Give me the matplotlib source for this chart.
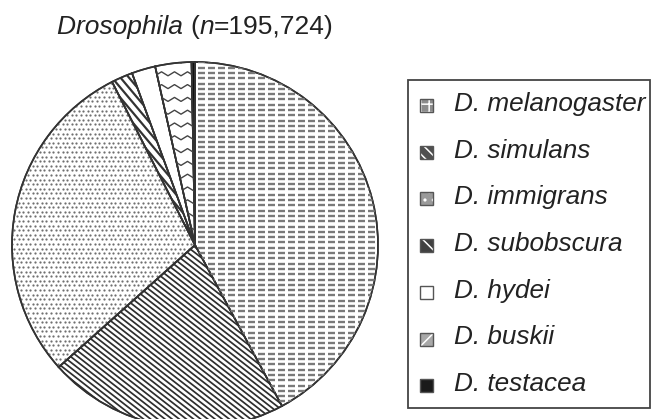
import numpy as np
import matplotlib
matplotlib.use("Agg")
import matplotlib.pyplot as plt
from matplotlib.collections import LineCollection
from matplotlib.patches import Rectangle, Wedge

# ---- data ----
species = ["D. melanogaster", "D. simulans", "D. immigrans", "D. subobscura",
           "D. hydei", "D. buskii", "D. testacea"]
shares = [42.2, 21.3, 29.2, 1.9, 2.1, 3.2, 0.3]
title_parts = [("Drosophila ", "italic"), ("(", "normal"), ("n", "italic"), ("=195,724)", "normal")]

plt.rcParams["font.family"] = ["Liberation Sans", "DejaVu Sans"]
plt.rcParams["hatch.linewidth"] = 1.1

W, H = 652, 419
fig = plt.figure(figsize=(6.52, 4.19), dpi=100)
ax = fig.add_axes([0, 0, 1, 1])

cx, cy, R = 195, H - 245, 183
wedges, _ = ax.pie(shares, startangle=90, counterclock=False, center=(cx, cy), radius=R,
                   wedgeprops=dict(facecolor="white", edgecolor="#333333", linewidth=1.2))
ax.set_xlim(0, W)
ax.set_ylim(0, H)
ax.set_aspect("equal")
ax.axis("off")


def add_clipped(coll, wedge):
    ax.add_collection(coll)
    coll.set_clip_path(wedge)


def diag_lines(angle_deg, spacing):
    th = np.radians(angle_deg)
    d = np.array([np.cos(th), -np.sin(th)])
    n = np.array([np.sin(th), np.cos(th)])
    segs = []
    for off in np.arange(-1.5 * R, 1.5 * R, spacing):
        p0 = np.array([cx, cy]) + off * n
        segs.append([p0 - 2 * R * d, p0 + 2 * R * d])
    return segs


# melanogaster: grid of short horizontal dashes
segs = []
for y in np.arange(cy - R, cy + R, 5.3):
    for x in np.arange(cx + 3, cx + R, 10):
        segs.append([(x, y), (x + 6.5, y)])
add_clipped(LineCollection(segs, colors="#7a7a7a", linewidths=1.7), wedges[0])

# simulans: dense diagonal lines
add_clipped(LineCollection(diag_lines(38, 4.4), colors="#2e2e2e", linewidths=1.25), wedges[1])

# immigrans: dots
xs, ys = [], []
for i, y in enumerate(np.arange(cy - R, cy + R, 4.6)):
    for x in np.arange(cx - R + (i % 2) * 2.3, cx + 10, 4.6):
        xs.append(x)
        ys.append(y)
dots = ax.scatter(xs, ys, s=2.6, color="#707070", linewidths=0)
dots.set_clip_path(wedges[2])

# subobscura: thicker diagonal lines
add_clipped(LineCollection(diag_lines(50, 6.5), colors="#333333", linewidths=1.6), wedges[3])

# buskii: zigzag rows
segs = []
for y in np.arange(cy - 10, cy + R, 12.8):
    pts = []
    for k, x in enumerate(np.arange(cx - 40, cx + 10, 6.5)):
        pts.append((x, y + (4 if k % 2 else 0)))
    segs.append(pts)
add_clipped(LineCollection(segs, colors="#444444", linewidths=1.0), wedges[5])

# testacea: solid black
wedges[6].set_facecolor("#111111")

# redraw wedge outlines above patterns
for w in wedges:
    ax.add_patch(Wedge(w.center, w.r, w.theta1, w.theta2,
                       fill=False, edgecolor="#333333", linewidth=1.2))

# ---- title ----
prev = None
for txt, style in title_parts:
    if prev is None:
        prev = ax.text(57, H - 33.5, txt, fontsize=19, style=style, color="#222222",
                       ha="left", va="baseline")
    else:
        prev = ax.annotate(txt, xy=(1, 0), xycoords=prev, fontsize=19, style=style,
                           color="#222222", ha="left", va="bottom")

# ---- legend ----
ax.add_patch(Rectangle((408, H - 408), 242, 328, fill=False, edgecolor="#444444", linewidth=1.3))
marker_styles = [
    dict(face="#8c8c8c", hatch="++", hc="white"),
    dict(face="#505050", hatch="\\\\\\", hc="white"),
    dict(face="#9a9a9a", hatch="..", hc="white"),
    dict(face="#404040", hatch="\\\\", hc="white"),
    dict(face="white", hatch=None, hc="white"),
    dict(face="#a8a8a8", hatch="x", hc="white"),
    dict(face="#1a1a1a", hatch=None, hc="#1a1a1a"),
]
base0, step = 111, 46.7
for i, (name, st) in enumerate(zip(species, marker_styles)):
    b = base0 + i * step
    y0 = H - (b + 1)
    ax.add_patch(Rectangle((420, y0), 13, 13, facecolor=st["face"], edgecolor=st["hc"],
                           hatch=st["hatch"], linewidth=0))
    ax.add_patch(Rectangle((420, y0), 13, 13, fill=False, edgecolor="#555555", linewidth=1.0))
    ax.text(454, H - b, name, fontsize=18.8, style="italic", color="#222222",
            ha="left", va="baseline")

fig.savefig("out.png", dpi=100)
